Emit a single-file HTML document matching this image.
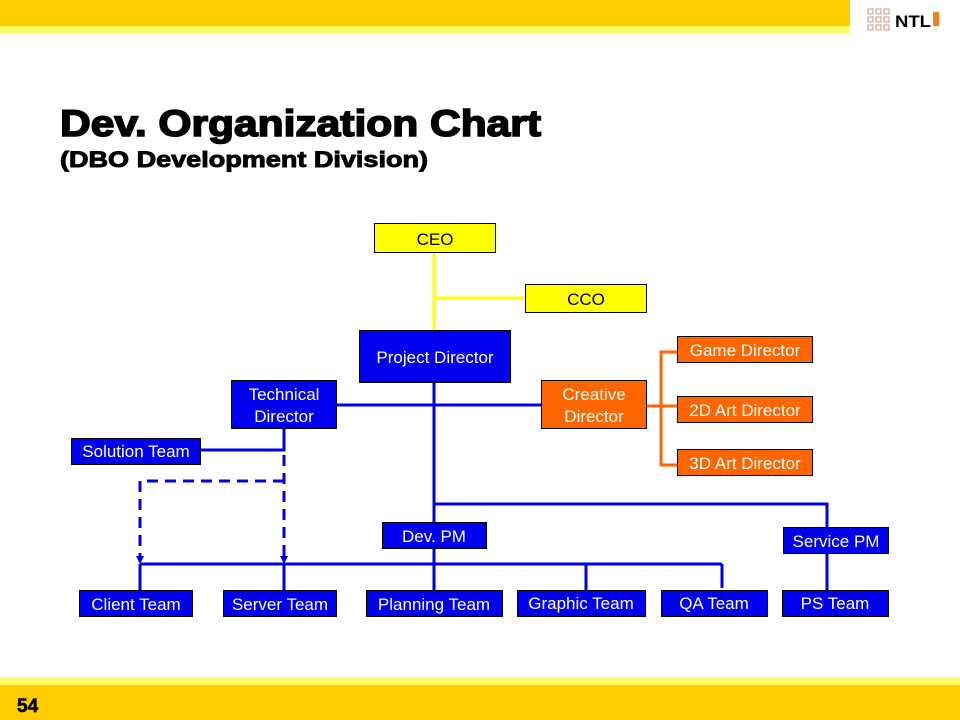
<!DOCTYPE html>
<html><head><meta charset="utf-8"><style>
html,body{margin:0;padding:0;background:#fff}
svg{display:block}
text{font-family:"Liberation Sans",Arial,sans-serif}
</style></head><body>
<svg width="960" height="720" viewBox="0 0 960 720" xmlns="http://www.w3.org/2000/svg">
<rect x="0" y="0" width="850" height="26" fill="#FFCC00"/>
<rect x="0" y="26" width="850" height="8" fill="#FFFF66"/>
<rect x="0" y="677" width="960" height="8" fill="#FFFF66"/>
<rect x="0" y="685" width="960" height="35" fill="#FFCC00"/>
<text x="17" y="712" font-size="19" font-weight="bold" fill="#000" stroke="#000" stroke-width="0.6">54</text>
<!-- logo -->
<g stroke="#c89a8a" fill="none" stroke-width="1">
<rect x="868" y="9" width="5" height="5"/><rect x="876" y="9" width="5" height="5"/><rect x="884" y="9" width="5" height="5"/>
<rect x="868" y="17" width="5" height="5"/><rect x="876" y="17" width="5" height="5"/><rect x="884" y="17" width="5" height="5"/>
<rect x="868" y="25" width="5" height="5"/><rect x="876" y="25" width="5" height="5"/><rect x="884" y="25" width="5" height="5"/>
</g>
<text x="895" y="27" font-size="17" font-weight="bold" fill="#000" textLength="36" lengthAdjust="spacingAndGlyphs">NTL</text>
<rect x="933" y="12" width="6" height="14" fill="#f08020"/>

<text x="60" y="136" font-size="37" font-weight="bold" fill="#000" stroke="#000" stroke-width="1.6" textLength="481" lengthAdjust="spacingAndGlyphs">Dev. Organization Chart</text>
<text x="60" y="167" font-size="22" font-weight="bold" fill="#000" stroke="#000" stroke-width="0.9" textLength="368" lengthAdjust="spacingAndGlyphs">(DBO Development Division)</text>

<g stroke="#FFFF00" stroke-width="3" fill="none">
<line x1="434" y1="252" x2="434" y2="330"/>
<line x1="434" y1="298" x2="525" y2="298"/>
</g>
<g stroke="#FF6600" stroke-width="3" fill="none">
<path d="M677 352 H661 V465 H677"/>
<line x1="646" y1="406" x2="677" y2="406"/>
</g>
<g stroke="#0000EE" stroke-width="3" fill="none">
<line x1="434" y1="382" x2="434" y2="590"/>
<line x1="336" y1="405" x2="541" y2="405"/>
<path d="M284 428 V450 H200"/>
<path d="M434 504 H827 V527"/>
<line x1="827" y1="553" x2="827" y2="590"/>
<line x1="140" y1="564" x2="722" y2="564"/>
<line x1="140" y1="564" x2="140" y2="590"/>
<line x1="284" y1="564" x2="284" y2="590"/>
<line x1="586" y1="564" x2="586" y2="590"/>
<line x1="722" y1="564" x2="722" y2="588"/>
<path d="M284 455 V556 M284 481 H140 V556" stroke-dasharray="11,7"/>
</g>
<polygon points="136,556 144,556 140,564" fill="#0000EE"/>
<polygon points="280,556 288,556 284,564" fill="#0000EE"/>

<g stroke="#000" stroke-width="1">
<rect x="374.5" y="223.5" width="121" height="29" fill="#FFFF00"/>
<rect x="525.5" y="284.5" width="121" height="28" fill="#FFFF00"/>
<rect x="359.5" y="330.5" width="151" height="52" fill="#0000EE"/>
<rect x="231.5" y="380.5" width="105" height="48" fill="#0000EE"/>
<rect x="71.5" y="438.5" width="129" height="26" fill="#0000EE"/>
<rect x="541.5" y="380.5" width="105" height="48" fill="#FF6600"/>
<rect x="677.5" y="336.5" width="135" height="26" fill="#FF6600"/>
<rect x="677.5" y="396.5" width="135" height="26" fill="#FF6600"/>
<rect x="677.5" y="449.5" width="135" height="26" fill="#FF6600"/>
<rect x="382.5" y="522.5" width="104" height="26" fill="#0000EE"/>
<rect x="783.5" y="527.5" width="105" height="26" fill="#0000EE"/>
<rect x="79.5" y="590.5" width="113" height="26" fill="#0000EE"/>
<rect x="223.5" y="590.5" width="113" height="26" fill="#0000EE"/>
<rect x="366.5" y="590.5" width="136" height="26" fill="#0000EE"/>
<rect x="517.5" y="590.5" width="128" height="26" fill="#0000EE"/>
<rect x="661.5" y="590.5" width="106" height="26" fill="#0000EE"/>
<rect x="782.5" y="590.5" width="106" height="26" fill="#0000EE"/>
</g>
<g font-size="17" text-anchor="middle" fill="#fff">
<text x="435" y="245" fill="#000">CEO</text>
<text x="586" y="305" fill="#000">CCO</text>
<text x="435" y="363">Project Director</text>
<text x="284" y="400">Technical</text>
<text x="284" y="422">Director</text>
<text x="136" y="457">Solution Team</text>
<text x="594" y="400">Creative</text>
<text x="594" y="422">Director</text>
<text x="745" y="356">Game Director</text>
<text x="745" y="416">2D Art Director</text>
<text x="745" y="469">3D Art Director</text>
<text x="434" y="542">Dev. PM</text>
<text x="836" y="547">Service PM</text>
<text x="136" y="610">Client Team</text>
<text x="280" y="610">Server Team</text>
<text x="434" y="610">Planning Team</text>
<text x="581" y="609">Graphic Team</text>
<text x="714" y="609">QA Team</text>
<text x="835" y="609">PS Team</text>
</g>
</svg>
</body></html>
